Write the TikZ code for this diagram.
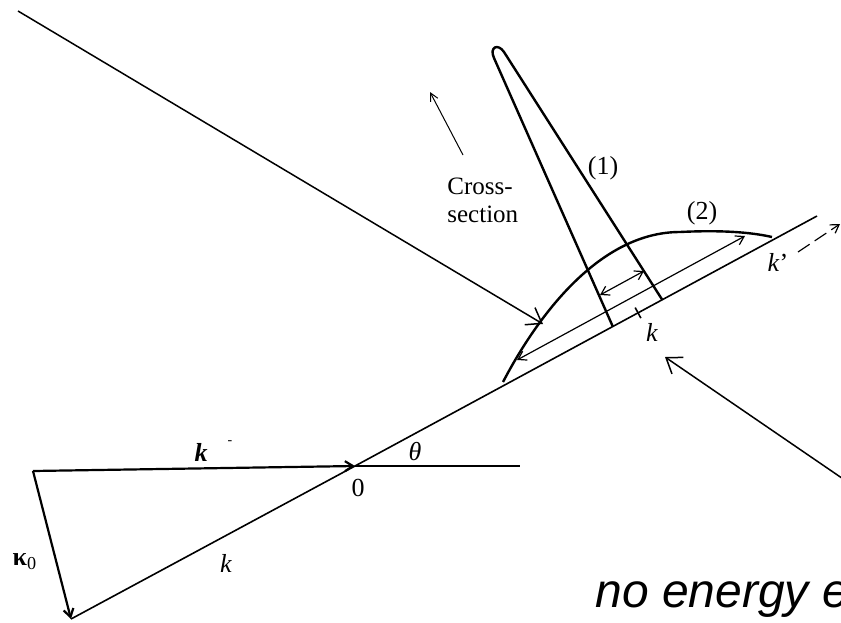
\documentclass[tikz,border=0pt]{standalone}
\usepackage{fontspec}
\setmainfont{Liberation Serif}
\newfontfamily\notefont{Liberation Sans}
\usetikzlibrary{arrows.meta, calc, positioning}

\begin{document}
\begin{tikzpicture}[x=0.5pt, y=-0.5pt,
  every node/.style={inner sep=0pt, font=\fontsize{13}{15}\selectfont},
  vec/.style={line width=0.8pt},
  vecarrow/.style={vec, -{Straight Barb[length=4pt,width=5pt]}},
  dblarrow/.style={line width=0.6pt, {Straight Barb[length=4pt,width=5pt]}-{Straight Barb[length=4pt,width=5pt]}},
  note/.style={line width=0.75pt, -{Straight Barb[length=7pt,width=10pt]}},
  curve/.style={line width=1.2pt}]
\useasboundingbox (0,0) rectangle (841,622);
\clip (0,0) rectangle (841,622);

% vector triangle
\coordinate (A) at (33,471);
\coordinate (B) at (71,619);
\coordinate (O) at (355,466);
\coordinate (H) at (520,466);
\coordinate (E) at (817,216);
\draw[vecarrow, line width=1.1pt] (A) -- (O);
\draw[vec] (O) -- (H);
\draw[vecarrow, line width=1.1pt] (A) -- (B);
\draw[vec] (B) -- (O) -- (E);

\node (kin) at (201,452) {\textbf{\textit{k}}};
\node[font=\fontsize{7}{8}\selectfont] (kdash) at (230,443) {-};
\node (theta) at (415,452) {\textit{θ}};
\node (zero) at (358,488) {0};
\node (kappa) at (25,562) {\textbf{κ}\textsubscript{0}};
\node (kout) at (226,563) {\textit{k}};

% cross-section curves
\coordinate (L1) at ($(O)!0.558!(E)$);
\coordinate (R1) at ($(O)!0.665!(E)$);
\coordinate (T1) at ($(O)!0.6126!(E)$);
\draw[curve] (L1) -- (494,58) .. controls (489,47) and (498,43) .. (504,52) -- (R1);
\draw[curve] (503,382) .. controls (538,315) and (600,232) .. (680,232)
  .. controls (720,230) and (750,232) .. (772,237);
\draw[vec] ($(T1)!3pt!90:(E)$) -- ($(T1)!3pt!-90:(E)$);

\coordinate (U1) at (517,360);
\coordinate (U2) at (745,236);
\draw[dblarrow] (U1) -- (U2);
\coordinate (D1) at (600,295);
\coordinate (D2) at (644,271);
\draw[dblarrow] (D1) -- (D2);

\coordinate (kp1) at (798,252);
\coordinate (kp2) at (840,224);
\draw[line width=0.6pt, dash pattern=on 7pt off 3pt, -{Straight Barb[length=4pt,width=5pt]}] (kp1) -- (kp2);

\node (one) at (603,168) {(1)};
\node (two) at (702,213) {(2)};
\node (kprime) at (778,262) {\textit{k}'};
\node (kmid) at (652,332) {\textit{k}};

% cross-section direction
\coordinate (cs1) at (463,155);
\coordinate (cs2) at (430,92);
\draw[line width=0.5pt, -{Straight Barb[length=4pt,width=4pt]}] (cs1) -- (cs2);
\node[anchor=west, align=left, font=\fontsize{12.5}{14}\selectfont] (crosslbl) at (447,200) {Cross-\\section};

% annotation arrows
\coordinate (n1) at (18,11);
\coordinate (p1) at (543,324);
\draw[note] (n1) -- (p1);
\coordinate (n2) at (852,485);
\coordinate (p2) at (665,357);
\draw[note] (n2) -- (p2);

\node[anchor=base west, font=\notefont\itshape\fontsize{24}{28}\selectfont] (energy) at (595,607) {no energy e};
\end{tikzpicture}
\end{document}
